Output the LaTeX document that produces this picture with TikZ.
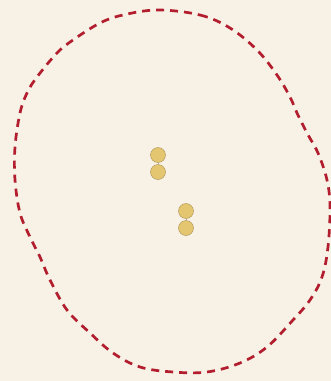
\documentclass[tikz,border=0pt]{standalone}
\definecolor{bgc}{RGB}{247,241,230}
\definecolor{ringc}{RGB}{178,30,45}
\definecolor{beadc}{RGB}{228,198,112}
\definecolor{beade}{RGB}{170,145,80}
\begin{document}
\begin{tikzpicture}[x=1pt,y=-1pt,
  bead/.style={circle,minimum size=15pt,inner sep=0pt,draw=beade,line width=0.4pt,fill=beadc},
  link/.style={draw=gray!60,line width=0.6pt},
  ring/.style={draw=ringc,line width=2.7pt,dash pattern=on 8pt off 6pt}]
\fill[bgc] (0,0) rectangle (331,381);
\useasboundingbox (0,0) rectangle (331,381);
\draw[ring] plot[smooth cycle,tension=0.6] coordinates {
(158,10) (200,15) (230,28) (257,50) (277,75) (290,97) (297,113) (307,133) (318,153)
(327,180) (330,207) (328,247) (322,277) (310,300) (293,320) (267,347) (240,363)
(207,372) (173,372) (140,367) (113,353) (90,333) (67,310) (50,280) (40,257)
(30,237) (20,213) (15,180) (15,147) (20,113) (27,93) (37,77) (57,53) (73,40)
(100,23) (123,15)};
\node[bead] (a1) at (158,155) {};
\node[bead] (a2) at (158,172) {};
\node[bead] (b1) at (186,211) {};
\node[bead] (b2) at (186,228) {};
\draw[link] (a1) -- (a2);
\draw[link] (b1) -- (b2);
\end{tikzpicture}
\end{document}
